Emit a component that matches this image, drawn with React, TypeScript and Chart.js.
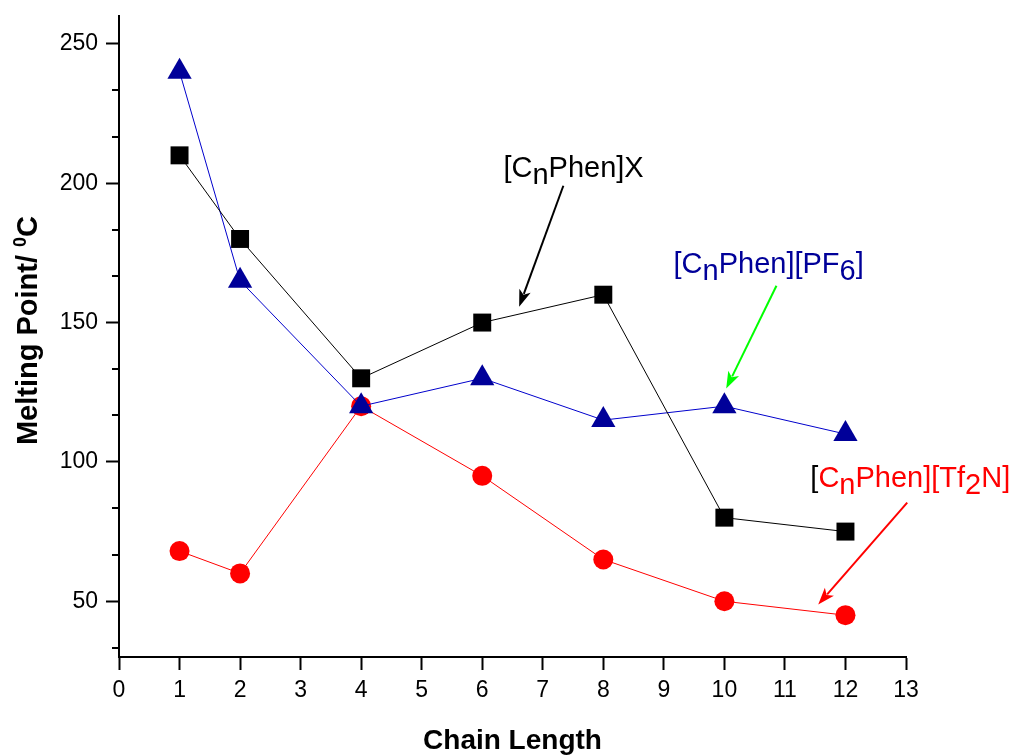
import { useEffect, useRef } from 'react';
import { Chart, registerables } from 'chart.js';

Chart.register(...registerables);

// ---- data ----
const chainLength = [1, 2, 4, 6, 8, 10, 12];
const phenX = [210, 180, 130, 150, 160, 80, 75];
const phenPF6 = [240, 165, 120, 130, 115, 120, 110];
const phenTf2N = [68, 60, 120, 95, 65, 50, 45];
const yMajorTicks = [50, 100, 150, 200, 250];
const xTickStep = 1;

const FONT = '"Liberation Sans", Arial, Helvetica, sans-serif';

type Part = { text: string; color: string; sub?: boolean };

function drawRich(ctx: CanvasRenderingContext2D, x: number, y: number, parts: Part[], size: number) {
  ctx.font = `${size}px ${FONT}`;
  ctx.textAlign = 'left';
  ctx.textBaseline = 'alphabetic';
  let cx = x;
  for (const p of parts) {
    ctx.fillStyle = p.color;
    ctx.fillText(p.text, cx, y + (p.sub ? 7 : 0));
    cx += ctx.measureText(p.text).width;
  }
}

function drawArrow(ctx: CanvasRenderingContext2D, x1: number, y1: number, x2: number, y2: number, color: string) {
  const ang = Math.atan2(y2 - y1, x2 - x1);
  const headLen = 17;
  const headW = 6;
  ctx.save();
  ctx.strokeStyle = color;
  ctx.fillStyle = color;
  ctx.lineWidth = 2;
  ctx.beginPath();
  ctx.moveTo(x1, y1);
  ctx.lineTo(x2 - Math.cos(ang) * headLen * 0.8, y2 - Math.sin(ang) * headLen * 0.8);
  ctx.stroke();
  ctx.beginPath();
  ctx.moveTo(x2, y2);
  ctx.lineTo(x2 - Math.cos(ang) * headLen - Math.sin(ang) * headW, y2 - Math.sin(ang) * headLen + Math.cos(ang) * headW);
  ctx.lineTo(x2 - Math.cos(ang) * headLen * 0.75, y2 - Math.sin(ang) * headLen * 0.75);
  ctx.lineTo(x2 - Math.cos(ang) * headLen + Math.sin(ang) * headW, y2 - Math.sin(ang) * headLen - Math.cos(ang) * headW);
  ctx.closePath();
  ctx.fill();
  ctx.restore();
}

const annotations = [
  {
    at: [6.35, 202.3],
    parts: [
      { text: '[C', color: '#000000' },
      { text: 'n', color: '#000000', sub: true },
      { text: 'Phen]X', color: '#000000' },
    ],
    arrow: [7.34, 199.1, 6.61, 155.7],
    arrowColor: '#000000',
  },
  {
    at: [9.16, 167.9],
    parts: [
      { text: '[C', color: '#000099' },
      { text: 'n', color: '#000099', sub: true },
      { text: 'Phen][PF', color: '#000099' },
      { text: '6', color: '#000099', sub: true },
      { text: ']', color: '#000099' },
    ],
    arrow: [10.86, 163.2, 10.03, 126.3],
    arrowColor: '#00ff00',
  },
  {
    at: [11.42, 91.1],
    parts: [
      { text: '[', color: '#000000' },
      { text: 'C', color: '#ff0000' },
      { text: 'n', color: '#ff0000', sub: true },
      { text: 'Phen][Tf', color: '#ff0000' },
      { text: '2', color: '#ff0000', sub: true },
      { text: 'N]', color: '#ff0000' },
    ],
    arrow: [13.02, 85.4, 11.55, 48.8],
    arrowColor: '#ff0000',
  },
];

const decorPlugin = {
  id: 'decor',
  afterDraw(chart: any) {
    const ctx: CanvasRenderingContext2D = chart.ctx;
    const xs = chart.scales.x;
    const ys = chart.scales.y;
    const area = chart.chartArea;
    ctx.save();
    // minor y ticks
    ctx.strokeStyle = '#000';
    ctx.lineWidth = 2;
    const step = (yMajorTicks[1] - yMajorTicks[0]) / 3;
    for (let v = yMajorTicks[0] - step; v <= ys.max; v += step) {
      if (v < ys.min) continue;
      const isMajor = yMajorTicks.some((m) => Math.abs(m - v) < 1e-6);
      if (isMajor) continue;
      const py = Math.round(ys.getPixelForValue(v));
      ctx.beginPath();
      ctx.moveTo(area.left - 7, py);
      ctx.lineTo(area.left, py);
      ctx.stroke();
    }
    // axis titles
    ctx.fillStyle = '#000';
    ctx.font = `bold 28px ${FONT}`;
    ctx.textAlign = 'center';
    ctx.textBaseline = 'alphabetic';
    ctx.fillText('Chain Length', (area.left + area.right) / 2, 749);

    ctx.save();
    ctx.translate(37, (area.top + area.bottom) / 2 - 6);
    ctx.rotate(-Math.PI / 2);
    const big = `bold 29px ${FONT}`;
    const small = `bold 18px ${FONT}`;
    ctx.font = big;
    const w1 = ctx.measureText('Melting Point/ ').width;
    const w3 = ctx.measureText('C').width;
    ctx.font = small;
    const w2 = ctx.measureText('0').width;
    let sx = -(w1 + w2 + w3) / 2;
    ctx.textAlign = 'left';
    ctx.font = big;
    ctx.fillText('Melting Point/ ', sx, 0);
    sx += w1;
    ctx.font = small;
    ctx.fillText('0', sx, -11);
    sx += w2;
    ctx.font = big;
    ctx.fillText('C', sx, 0);
    ctx.restore();

    // annotations
    for (const a of annotations) {
      const tx = xs.getPixelForValue(a.at[0]);
      const ty = ys.getPixelForValue(a.at[1]);
      drawRich(ctx, tx, ty, a.parts, 29);
      drawArrow(
        ctx,
        xs.getPixelForValue(a.arrow[0]),
        ys.getPixelForValue(a.arrow[1]),
        xs.getPixelForValue(a.arrow[2]),
        ys.getPixelForValue(a.arrow[3]),
        a.arrowColor
      );
    }
    ctx.restore();
  },
};

export default function App() {
  const ref = useRef<HTMLCanvasElement | null>(null);

  useEffect(() => {
    document.body.style.margin = '0';
    document.body.style.overflow = 'hidden';
    const canvas = ref.current!;
    const toXY = (ys: number[]) => ys.map((y, i) => ({ x: chainLength[i], y }));
    const tickFont = { family: FONT, size: 23 };
    const chart = new Chart(canvas, {
      type: 'line',
      data: {
        datasets: [
          {
            label: '[CnPhen]X',
            data: toXY(phenX),
            borderColor: '#000000',
            backgroundColor: '#000000',
            borderWidth: 1,
            pointStyle: 'rect',
            pointRadius: 12.7,
            pointBorderWidth: 0,
            pointBackgroundColor: '#000000',
          },
          {
            label: '[CnPhen][PF6]',
            data: toXY(phenPF6),
            borderColor: '#0000cc',
            backgroundColor: '#000099',
            borderWidth: 1,
            pointStyle: 'triangle',
            pointRadius: 14,
            pointBorderWidth: 0,
            pointBackgroundColor: '#000099',
          },
          {
            label: '[CnPhen][Tf2N]',
            data: toXY(phenTf2N),
            borderColor: '#ff0000',
            backgroundColor: '#ff0000',
            borderWidth: 1,
            pointStyle: 'circle',
            pointRadius: 10,
            pointBorderWidth: 0,
            pointBackgroundColor: '#ff0000',
          },
        ],
      },
      options: {
        animation: false,
        responsive: false,
        devicePixelRatio: 1,
        layout: { padding: { top: 16, right: 108, left: 0, bottom: 0 } },
        plugins: {
          legend: { display: false },
          tooltip: { enabled: false },
        },
        scales: {
          x: {
            type: 'linear',
            min: 0,
            max: 13,
            ticks: {
              stepSize: xTickStep,
              font: tickFont,
              color: '#000',
              padding: 7,
              maxRotation: 0,
              autoSkip: false,
            },
            grid: {
              drawOnChartArea: false,
              tickLength: 13,
              tickWidth: 2,
              tickColor: '#000',
            },
            border: { color: '#000', width: 2 },
            afterFit: (s: any) => {
              s.height = 98;
              s.paddingLeft = 0;
              s.paddingRight = 0;
            },
          },
          y: {
            type: 'linear',
            min: 30,
            max: 260,
            afterBuildTicks: (s: any) => {
              s.ticks = yMajorTicks.map((v) => ({ value: v }));
            },
            ticks: {
              font: tickFont,
              color: '#000',
              padding: 8,
            },
            grid: {
              drawOnChartArea: false,
              tickLength: 13,
              tickWidth: 2,
              tickColor: '#000',
            },
            border: { color: '#000', width: 2 },
            afterFit: (s: any) => {
              s.width = 119;
              s.paddingTop = 0;
              s.paddingBottom = 0;
            },
          },
        },
      },
      plugins: [decorPlugin],
    });
    return () => chart.destroy();
  }, []);

  return <canvas ref={ref} width={1014} height={755} style={{ display: 'block' }} />;
}
